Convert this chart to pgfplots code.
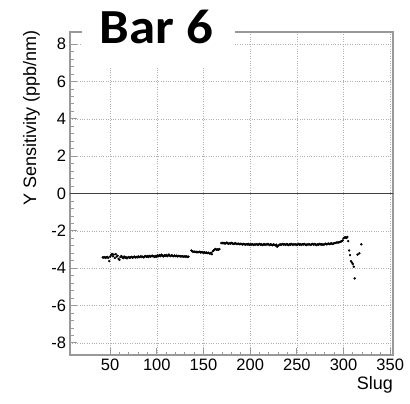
\documentclass[border=0pt]{standalone}
\usepackage{pgfplots}
\pgfplotsset{compat=1.18}
\usepackage{fontspec}
\setmainfont{Liberation Sans}
\newfontfamily\titlefont{Carlito}
\begin{document}
\begin{tikzpicture}
\begin{axis}[
  name=ax,
  scale only axis,
  width=323bp, height=323bp,
  xmin=7, xmax=353,
  ymin=-8.65, ymax=8.65,
  xtick={50,100,150,200,250,300,350},
  ytick={-8,-6,-4,-2,0,2,4,6,8},
  yticklabels={-8,-6,-4,-2,0,2,4,6,8},
  minor x tick num=4,
  minor y tick num=4,
  tick pos=left,
  tick align=inside,
  major tick length=7bp,
  minor tick length=3.5bp,
  every tick/.style={gray!80, line width=0.8bp},
  axis line style={gray!80, line width=1.3bp},
  grid=major,
  major grid style={gray!60, dotted, line width=0.5bp},
  ticklabel style={font=\fontsize{16.5bp}{18bp}\selectfont},
  /pgf/number format/assume math mode=true,
  xticklabel style={yshift=0bp},
  yticklabel style={xshift=-0.5bp},
  xlabel={Slug},
  ylabel={Y Sensitivity (ppb/nm)},
  label style={font=\fontsize{18bp}{20bp}\selectfont},
  xlabel style={at={(rel axis cs:1,0)}, anchor=north east, yshift=-21bp, inner sep=0pt},
  ylabel style={anchor=north east, inner sep=0pt},
  every axis y label/.append style={at={([xshift=-47bp,yshift=2bp]rel axis cs:0,1)}},
  clip=false,
]
\draw[black!75, line width=0.6bp] (axis cs:7,0) -- (axis cs:353,0);
\addplot[only marks, mark=*, mark size=1bp, black] coordinates {
(42,-3.42) (43,-3.43) (44,-3.41) (45,-3.44) (46,-3.42) (47,-3.40) (48,-3.45) (49,-3.62) (50,-3.38)
(51,-3.30) (52,-3.24) (53,-3.36) (54,-3.27) (55,-3.45) (56,-3.25) (57,-3.38) (58,-3.33) (59,-3.50) (60,-3.55)
(61,-3.40) (62,-3.35) (63,-3.42) (64,-3.46) (65,-3.38) (66,-3.44) (67,-3.41) (68,-3.47) (69,-3.43) (70,-3.40)
(71,-3.45) (72,-3.42) (73,-3.39) (74,-3.44) (75,-3.41) (76,-3.38) (77,-3.43) (78,-3.40) (79,-3.42) (80,-3.37)
(81,-3.41) (82,-3.39) (83,-3.36) (84,-3.40) (85,-3.38) (86,-3.42) (87,-3.37) (88,-3.35) (89,-3.39) (90,-3.36)
(91,-3.40) (92,-3.34) (93,-3.38) (94,-3.36) (95,-3.33) (96,-3.37) (97,-3.35) (98,-3.40) (99,-3.34) (100,-3.38)
(101,-3.32) (102,-3.36) (103,-3.30) (104,-3.35) (105,-3.28) (106,-3.33) (107,-3.37) (108,-3.31) (109,-3.34) (110,-3.29)
(111,-3.36) (112,-3.32) (113,-3.27) (114,-3.33) (115,-3.35) (116,-3.30) (117,-3.34) (118,-3.36) (119,-3.32) (120,-3.35)
(121,-3.33) (122,-3.37) (123,-3.34) (124,-3.36) (125,-3.35) (126,-3.38) (127,-3.36) (128,-3.37) (129,-3.39) (130,-3.36)
(131,-3.38) (132,-3.37) (133,-3.40) (134,-3.38)
(137,-3.05) (138,-3.10) (139,-3.12) (140,-3.11) (141,-3.13) (142,-3.12) (143,-3.15) (144,-3.13) (145,-3.14) (146,-3.12)
(147,-3.16) (148,-3.14) (149,-3.15) (150,-3.17) (151,-3.15) (152,-3.18) (153,-3.16) (154,-3.19) (155,-3.17) (156,-3.20)
(157,-3.22) (158,-3.18) (159,-3.25) (160,-3.10) (161,-3.05) (162,-3.00) (163,-2.97) (164,-3.02) (165,-2.99) (166,-3.01)
(167,-2.98)
(169,-2.66) (170,-2.64) (171,-2.67) (172,-2.65) (173,-2.68) (174,-2.66) (175,-2.63) (176,-2.67) (177,-2.69) (178,-2.66)
(179,-2.68) (180,-2.65) (181,-2.67) (182,-2.70) (183,-2.68) (184,-2.66) (185,-2.69) (186,-2.71) (187,-2.68) (188,-2.70)
(189,-2.72) (190,-2.69) (191,-2.71) (192,-2.73) (193,-2.70) (194,-2.72) (195,-2.74) (196,-2.71) (197,-2.73) (198,-2.70)
(199,-2.75) (200,-2.72) (201,-2.74) (202,-2.71) (203,-2.73) (204,-2.76) (205,-2.72) (206,-2.74) (207,-2.71) (208,-2.75)
(209,-2.73) (210,-2.70) (211,-2.74) (212,-2.72) (213,-2.76) (214,-2.73) (215,-2.71) (216,-2.75) (217,-2.72) (218,-2.74)
(219,-2.70) (220,-2.73) (221,-2.76) (222,-2.72) (223,-2.74) (224,-2.77) (225,-2.73) (226,-2.75) (227,-2.78) (228,-2.74)
(229,-2.85) (230,-2.80) (231,-2.76) (232,-2.72) (233,-2.75) (234,-2.73) (235,-2.70) (236,-2.74) (237,-2.72) (238,-2.75)
(239,-2.71) (240,-2.73) (241,-2.76) (242,-2.72) (243,-2.74) (244,-2.70) (245,-2.73) (246,-2.75) (247,-2.71) (248,-2.74)
(249,-2.72) (250,-2.76) (251,-2.73) (252,-2.70) (253,-2.74) (254,-2.72) (255,-2.75) (256,-2.71) (257,-2.73) (258,-2.70)
(259,-2.74) (260,-2.76) (261,-2.72) (262,-2.74) (263,-2.71) (264,-2.73) (265,-2.75) (266,-2.72) (267,-2.70) (268,-2.74)
(269,-2.71) (270,-2.73) (271,-2.76) (272,-2.72) (273,-2.74) (274,-2.70) (275,-2.73) (276,-2.71) (277,-2.75) (278,-2.72)
(279,-2.74) (280,-2.71) (281,-2.69) (282,-2.72) (283,-2.70) (284,-2.68) (285,-2.71) (286,-2.69) (287,-2.67) (288,-2.70)
(289,-2.68) (290,-2.66) (291,-2.65) (292,-2.64) (293,-2.62) (294,-2.63) (295,-2.61) (296,-2.60) (297,-2.58) (298,-2.56)
(299,-2.52) (300,-2.40) (301,-2.36) (302,-2.35) (303,-2.38) (304,-2.33)
(305,-2.55) (306,-3.05) (307,-3.30) (308,-3.62) (309,-3.70) (310,-3.78) (311,-3.92) (312,-4.55)
(315,-3.27) (317,-3.20) (319,-2.72)
};
\end{axis}
% white patch behind the slide title, covering the frame top
\fill[white] ([xshift=12bp,yshift=287bp]ax.south west) rectangle ([xshift=165bp,yshift=370bp]ax.south west);
\node[anchor=base, inner sep=0pt, xscale=1.08, font=\titlefont\bfseries\fontsize{49bp}{51bp}\selectfont]
  at ([xshift=86.5bp,yshift=312bp]ax.south west) {Bar 6};
\pgfresetboundingbox
\path ([xshift=-70bp,yshift=-48bp]ax.south west) rectangle ([xshift=17bp,yshift=32bp]ax.north east);
\end{tikzpicture}
\end{document}
